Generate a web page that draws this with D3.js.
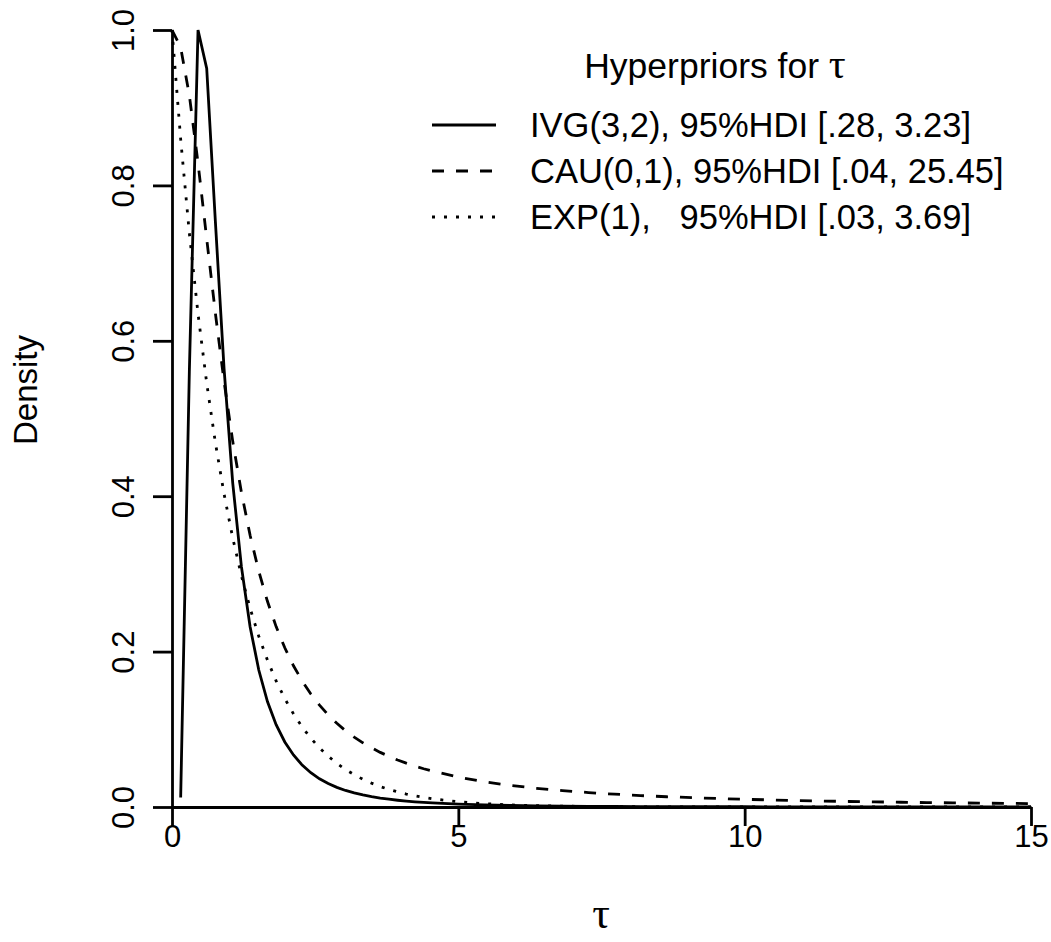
<!DOCTYPE html>
<html>
<head>
<meta charset="utf-8">
<script src="https://cdn.jsdelivr.net/npm/d3@7"></script>
<style>
  html, body { margin: 0; padding: 0; background: #fff; }
  svg { display: block; }
  text { font-family: "Liberation Sans", Arial, Helvetica, sans-serif; fill: #000; }
  .tau { font-family: "Liberation Serif", "DejaVu Serif", serif; }
</style>
</head>
<body>
<svg id="chart" width="1051" height="942"></svg>
<script>
// ---- data ----
const tau = [0, 0.1515, 0.3030, 0.4545, 0.6061, 0.7576, 0.9091, 1.0606, 1.2121, 1.3636,
  1.5152, 1.6667, 1.8182, 1.9697, 2.1212, 2.2727, 2.4242, 2.5758, 2.7273, 2.8788,
  3.0303, 3.1818, 3.3333, 3.4848, 3.6364, 3.7879, 3.9394, 4.0909, 4.2424, 4.3939,
  4.5455, 5.0000, 5.4545, 5.9091, 6.3636, 6.8182, 7.2727, 7.7273, 8.1818, 8.6364,
  9.0909, 9.5455, 10.0000, 10.4545, 10.9091, 11.3636, 11.8182, 12.2727, 12.7273, 13.1818,
  13.6364, 14.0909, 14.5455, 15.0000];

const ivg = [null, 0.0122, 0.5609, 1.0000, 0.9505, 0.7533, 0.5641, 0.4169, 0.3093, 0.2320,
  0.1763, 0.1357, 0.1059, 0.0837, 0.0669, 0.0540, 0.0441, 0.0363, 0.0302, 0.0253,
  0.0213, 0.0181, 0.0155, 0.0133, 0.0115, 0.0100, 0.0087, 0.0076, 0.0067, 0.0059,
  0.0052, 0.0037, 0.0027, 0.0020, 0.0015, 0.0012, 0.0009, 0.0008, 0.0006, 0.0005,
  0.0004, 0.0003, 0.0003, 0.0002, 0.0002, 0.0002, 0.0001, 0.0001, 0.0001, 0.0001,
  0.0001, 0.0001, 0.0001, 0.0001];

const cau = [1.0000, 0.9776, 0.9159, 0.8288, 0.7313, 0.6354, 0.5475, 0.4706, 0.4050, 0.3497,
  0.3034, 0.2647, 0.2322, 0.2049, 0.1818, 0.1622, 0.1454, 0.1310, 0.1185, 0.1077,
  0.0982, 0.0899, 0.0826, 0.0761, 0.0703, 0.0652, 0.0605, 0.0564, 0.0526, 0.0492,
  0.0462, 0.0385, 0.0325, 0.0278, 0.0241, 0.0211, 0.0186, 0.0165, 0.0147, 0.0132,
  0.0120, 0.0109, 0.0099, 0.0091, 0.0083, 0.0077, 0.0071, 0.0066, 0.0061, 0.0057,
  0.0053, 0.0050, 0.0047, 0.0044];

const expo = [1.0000, 0.8594, 0.7386, 0.6348, 0.5455, 0.4688, 0.4029, 0.3463, 0.2976, 0.2557,
  0.2198, 0.1889, 0.1623, 0.1395, 0.1199, 0.1030, 0.0885, 0.0761, 0.0654, 0.0562,
  0.0483, 0.0415, 0.0357, 0.0307, 0.0263, 0.0226, 0.0195, 0.0167, 0.0144, 0.0124,
  0.0106, 0.0067, 0.0043, 0.0027, 0.0017, 0.0011, 0.0007, 0.0004, 0.0003, 0.0002,
  0.0001, 0.0001, 0.0000, 0.0000, 0.0000, 0.0000, 0.0000, 0.0000, 0.0000, 0.0000,
  0.0000, 0.0000, 0.0000, 0.0000];

const xTicks = [0, 5, 10, 15];
const yTicks = [0, 0.2, 0.4, 0.6, 0.8, 1.0];
const yTickLabels = ["0.0", "0.2", "0.4", "0.6", "0.8", "1.0"];

const seriesNames = ["IVG(3,2), 95%HDI [.28, 3.23]", "CAU(0,1), 95%HDI [.04, 25.45]", "EXP(1),   95%HDI [.03, 3.69]"];
const seriesDash = ["none", "12,12", "3,9"];
const seriesValues = [ivg, cau, expo];

// ---- layout ----
const svg = d3.select("#chart");
const x = d3.scaleLinear().domain([0, 15]).range([172, 1031]);
const y = d3.scaleLinear().domain([0, 1]).range([807, 30]);
const LW = 2.8;
const tickFont = 31;
const labFont = 33;
const legFont = 34.5;

// x axis
const gx = svg.append("g").attr("transform", `translate(0,${y(0)})`)
  .call(d3.axisBottom(x).tickValues(xTicks).tickSize(19).tickSizeOuter(0).tickFormat(d3.format("d")));
gx.select(".domain").attr("stroke-width", LW);
gx.selectAll(".tick line").attr("stroke-width", LW);
gx.selectAll(".tick text").attr("y", 40).attr("dy", null)
  .style("font-size", tickFont + "px").style("font-family", '"Liberation Sans", Arial, sans-serif');

// y axis
const gy = svg.append("g").attr("transform", `translate(${x(0)},0)`)
  .call(d3.axisLeft(y).tickValues(yTicks).tickSize(19).tickSizeOuter(0).tickFormat((d, i) => yTickLabels[i]));
gy.select(".domain").attr("stroke-width", LW);
gy.selectAll(".tick line").attr("stroke-width", LW);
gy.selectAll(".tick text").attr("x", null).attr("dy", null)
  .attr("text-anchor", "middle")
  .attr("transform", "translate(-38,0) rotate(-90)")
  .style("font-size", tickFont + "px").style("font-family", '"Liberation Sans", Arial, sans-serif');

// axis titles
svg.append("text").attr("class", "tau")
  .attr("x", 601).attr("y", 928).attr("text-anchor", "middle")
  .style("font-size", "44px").text("τ");
svg.append("text")
  .attr("transform", "translate(37,390) rotate(-90)")
  .attr("text-anchor", "middle").style("font-size", labFont + "px").text("Density");

// curves
seriesValues.forEach((vals, k) => {
  const pts = tau.map((t, i) => ({ t: t, v: vals[i] }));
  const line = d3.line().defined(d => d.v != null).x(d => x(d.t)).y(d => y(d.v));
  svg.append("path").datum(pts)
    .attr("d", line)
    .attr("fill", "none").attr("stroke", "#000").attr("stroke-width", LW)
    .attr("stroke-dasharray", seriesDash[k]);
});

// legend
const lg = svg.append("g");
const title = lg.append("text").attr("x", 715).attr("y", 78).attr("text-anchor", "middle")
  .style("font-size", "35.5px");
title.append("tspan").text("Hyperpriors for ");
title.append("tspan").attr("class", "tau").style("font-size", "42px").text("τ");

const rowY = [125, 171, 217];
seriesNames.forEach((name, k) => {
  lg.append("line").attr("x1", 432).attr("x2", 496).attr("y1", rowY[k]).attr("y2", rowY[k])
    .attr("stroke", "#000").attr("stroke-width", LW).attr("stroke-dasharray", seriesDash[k]);
  lg.append("text").attr("x", 530).attr("y", rowY[k]).attr("dy", "0.36em")
    .style("font-size", legFont + "px").style("white-space", "pre").text(name);
});
</script>
</body>
</html>
